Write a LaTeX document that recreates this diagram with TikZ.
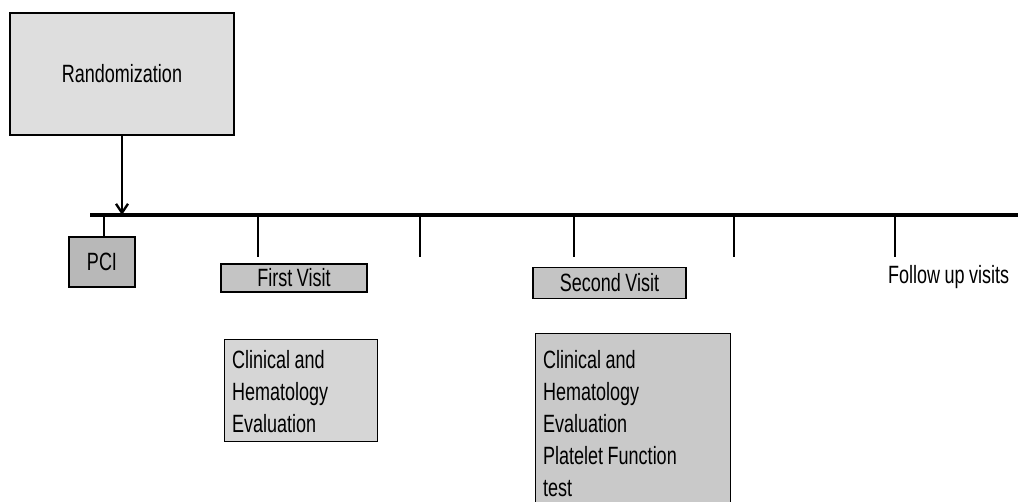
\documentclass[tikz,border=0pt]{standalone}
\usepackage{fontspec}
\setmainfont[FakeStretch=0.72,WordSpace=0.9]{Liberation Sans}
\usetikzlibrary{arrows.meta}
\definecolor{randfill}{gray}{0.87}
\definecolor{pcifill}{gray}{0.72}
\definecolor{visitfill}{gray}{0.77}
\definecolor{clinAfill}{gray}{0.84}
\definecolor{clinBfill}{gray}{0.79}
\begin{document}
\begin{tikzpicture}[x=1pt,y=-1pt,
  box/.style={draw=black,line width=1.1pt,inner sep=0pt,font=\fontsize{25}{32}\selectfont},
  lbl/.style={inner sep=0pt,font=\fontsize{25}{32}\selectfont},
  tickline/.style={draw=black,line width=1.1pt},
  timeline/.style={draw=black,line width=4.5pt},
  mainarrow/.style={draw=black,line width=2.8pt,-{Straight Barb[length=9pt,width=12pt,line width=2.4pt]}}]
\useasboundingbox (0,0) rectangle (1018,502);
% boxes
\node[box,fill=randfill,minimum width=224pt,minimum height=122pt] (rand) at (122,74) {Randomization};
\node[box,fill=pcifill,minimum width=66pt,minimum height=50pt] (pci) at (102,262) {PCI};
\node[box,fill=visitfill,minimum width=146pt,minimum height=28pt] (v1) at (294,278) {First Visit};
\node[box,fill=visitfill,minimum width=153pt,minimum height=31pt] (v2) at (609.5,283) {Second Visit};
\node[box,fill=clinAfill,anchor=north west,minimum width=153pt,minimum height=102pt] (c1) at (224,339) {};
\node[lbl,anchor=north west,align=left] (c1t) at (232,350) {Clinical and\\Hematology\\Evaluation};
\node[box,fill=clinBfill,anchor=north west,minimum width=195pt,minimum height=185pt] (c2) at (535,333) {};
\node[lbl,anchor=north west,align=left] (c2t) at (543,350) {Clinical and\\Hematology\\Evaluation\\Platelet Function\\test};
\node[lbl,anchor=base west] (fu) at (888,284) {Follow up visits};
% timeline
\coordinate (tl0) at (90,215);
\coordinate (tl1) at (1018,215);
\draw[timeline] (tl0) -- (tl1);
% arrow
\draw[mainarrow] (rand.south) -- (rand.south |- tl0);
% ticks
\coordinate (t1) at (258,257);
\coordinate (t2) at (420,257);
\coordinate (t3) at (574,257);
\coordinate (t4) at (734,257);
\coordinate (t5) at (895,257);
\draw[tickline] (104,215) -- (pci.north -| 104,0);
\foreach \t in {t1,t2,t3,t4,t5} \draw[tickline] (\t |- tl0) -- (\t);
\end{tikzpicture}
\end{document}
